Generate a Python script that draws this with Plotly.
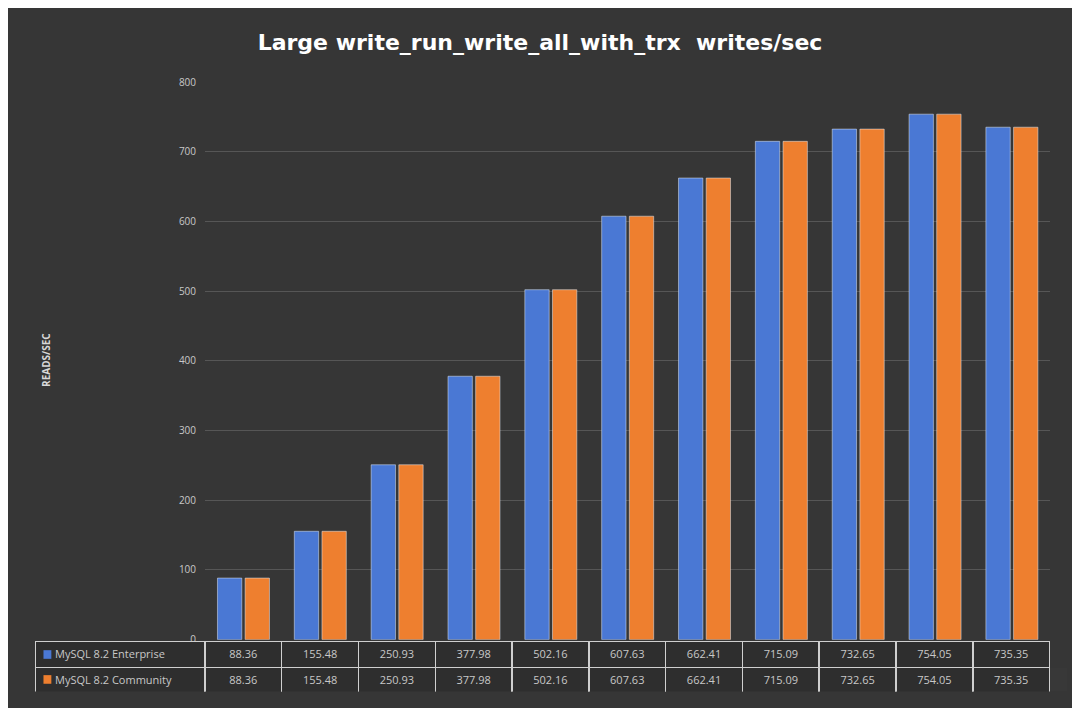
import plotly.graph_objects as go

categories = [str(i) for i in range(1, 12)]
enterprise = [88.36, 155.48, 250.93, 377.98, 502.16, 607.63, 662.41, 715.09, 732.65, 754.05, 735.35]
community = [88.36, 155.48, 250.93, 377.98, 502.16, 607.63, 662.41, 715.09, 732.65, 754.05, 735.35]
series_names = ['MySQL 8.2 Enterprise', 'MySQL 8.2 Community']
y_ticks = [0, 100, 200, 300, 400, 500, 600, 700, 800]

BLUE = '#4a78d4'
ORANGE = '#ee7f2f'
W, H = 1080, 716

fig = go.Figure()
fig.add_trace(go.Bar(x=categories, y=enterprise, name=series_names[0], marker_color=BLUE))
fig.add_trace(go.Bar(x=categories, y=community, name=series_names[1], marker_color=ORANGE))

# data table under the axis (first row in header, second row in cells)
fmt = lambda v: f'{v:.2f}'
hdr = ['    ' + series_names[0]] + [fmt(v) for v in enterprise]
cells = [['    ' + series_names[1]]] + [[fmt(v)] for v in community]
fig.add_trace(go.Table(
    domain=dict(x=[28 / W, 1058 / W], y=[10 / H, 63 / H]),
    columnwidth=[172] + [78] * 11,
    header=dict(values=hdr, height=26, fill_color='#2e2e2e',
                line=dict(color='#cfcfcf', width=1.5),
                font=dict(color='#c8c8c8', size=11), align=['left'] + ['center'] * 11),
    cells=dict(values=cells, height=26, fill_color='#2e2e2e',
               line=dict(color='#cfcfcf', width=1.5),
               font=dict(color='#c8c8c8', size=11), align=['left'] + ['center'] * 11),
))

# legend keys inside the table
for col, yc in ((BLUE, 666), (ORANGE, 692)):
    fig.add_shape(type='rect', xref='paper', yref='paper', x0=36 / W, x1=44 / W,
                  y0=(H - yc - 5) / H, y1=(H - yc + 4) / H, fillcolor=col, line_width=0)

fig.update_layout(
    paper_bgcolor='#363636', plot_bgcolor='#363636',
    margin=dict(l=0, r=0, t=0, b=0),
    showlegend=False,
    barmode='group', bargap=0.28, bargroupgap=0.12,
    title=dict(text='<b>Large write_run_write_all_with_trx  writes/sec</b>', x=0.5, y=0.962,
               xanchor='center', font=dict(family='DejaVu Sans', size=22, color='white')),
    xaxis=dict(domain=[200 / W, 1058 / W], showticklabels=False, showgrid=False,
               zeroline=False, showline=False, anchor='y'),
    yaxis=dict(domain=[(H - 651) / H, (H - 70) / H], range=[0, 800], tickvals=y_ticks,
               gridcolor='#565656', gridwidth=1, zeroline=False,
               tickfont=dict(family='Open Sans', size=10, color='#c8c8c8'), ticks='',
               ticklabelstandoff=8),
    font=dict(family='Open Sans'),
)
fig.add_annotation(text='<b>READS/SEC</b>', x=30 / W, y=(H - 360) / H, xref='paper', yref='paper',
                   textangle=-90, showarrow=False, font=dict(size=10, color='#d8d8d8'))

fig.write_html('out.html')
